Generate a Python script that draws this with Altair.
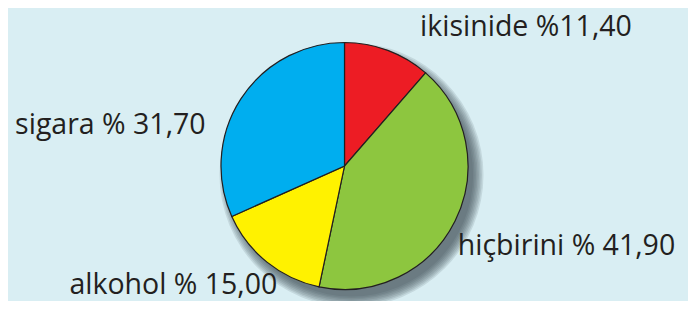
import math
import altair as alt
import pandas as pd

# ---- data ----
categories = ["ikisinide", "hiçbirini", "alkohol", "sigara"]
values = [11.40, 41.90, 15.00, 31.70]
labels = ["ikisinide %11,40", "hiçbirini % 41,90", "alkohol % 15,00", "sigara % 31,70"]
colors = ["#ed1c24", "#8dc63f", "#fff200", "#00aeef"]

df = pd.DataFrame({
    "kategori": categories,
    "deger": values,
    "etiket": labels,
    "sira": list(range(len(categories))),
})

# ---- layout / style ----
W, H = 680, 293
CX, CY = 336.5, 158
R = 123.5
LABEL_R = 150
FONT = "Open Sans"
FSIZE = 28.5
TEXT_COLOR = "#231f20"
BG = "#d9eef3"
label_layout = {
    "ikisinide": dict(align="left", dx=23, dy=10),
    "hiçbirini": dict(align="left", dx=-21, dy=22),
    "alkohol": dict(align="right", dx=27, dy=11),
    "sigara": dict(align="right", dx=-13, dy=50),
}
SH_DX, SH_DY = 7, 9
shadow_radii = [R - 2 + 1.5 * k for k in range(8)]

theta_scale = alt.Scale(domain=[0, 100], range=[0, 2 * math.pi])

base = alt.Chart(df).transform_window(
    bitis="sum(deger)", sort=[alt.SortField("sira")], frame=[None, 0]
).transform_calculate(
    baslangic="datum.bitis - datum.deger",
    orta="datum.bitis - datum.deger / 2",
)

shadow_src = pd.DataFrame({"s": [0.0], "e": [100.0]})
shadow_layers = [
    alt.Chart(shadow_src).mark_arc(
        radius=r, color="#34464f", opacity=0.13, strokeWidth=0
    ).encode(
        x=alt.value(CX + SH_DX), y=alt.value(CY + SH_DY),
        theta=alt.Theta("s:Q", scale=theta_scale), theta2="e:Q",
    )
    for r in shadow_radii
]

pie = base.mark_arc(radius=R, stroke="#231f20", strokeWidth=1.2).encode(
    x=alt.value(CX),
    y=alt.value(CY),
    theta=alt.Theta("baslangic:Q", scale=theta_scale),
    theta2="bitis:Q",
    color=alt.Color("kategori:N", scale=alt.Scale(domain=categories, range=colors), legend=None),
)

texts = []
for cat in categories:
    st = label_layout[cat]
    texts.append(
        base.transform_filter(alt.datum.kategori == cat).mark_text(
            radius=LABEL_R, font=FONT, fontSize=FSIZE, color=TEXT_COLOR,
            baseline="alphabetic", align=st["align"], dx=st["dx"], dy=st["dy"],
        ).encode(
            x=alt.value(CX),
            y=alt.value(CY),
            theta=alt.Theta("orta:Q", scale=theta_scale),
            text="etiket:N",
        )
    )

chart = alt.layer(*shadow_layers, pie, *texts).properties(
    width=W, height=H, padding=0, background=BG,
    autosize=alt.AutoSizeParams(type="none"),
).configure_view(stroke=None)

chart.save("out.html", embed_options={"renderer": "svg", "actions": False})
